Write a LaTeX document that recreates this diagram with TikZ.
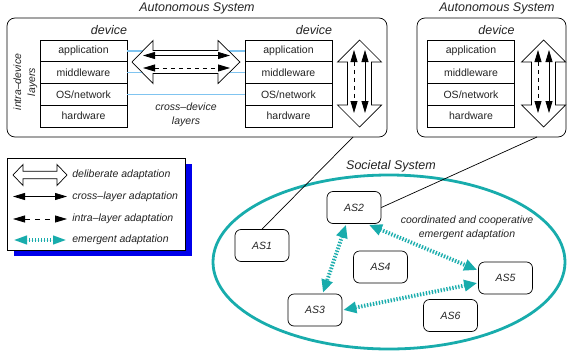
\documentclass[tikz,border=0pt]{standalone}
\usepackage{fontspec}
\setmainfont{Liberation Sans}
\usetikzlibrary{arrows.meta,calc,shapes.geometric,shadows}
\definecolor{teal1}{RGB}{24,172,172}
\definecolor{lblue}{RGB}{128,196,240}
\definecolor{shblue}{RGB}{0,0,235}
\definecolor{txt}{RGB}{35,35,35}
\newcommand\mystack[2]{%
  \node[layer] (#1a) at (#2,50.875) {application};
  \node[layer] (#1b) at (#2,72.625) {middleware};
  \node[layer] (#1c) at (#2,94.375) {OS/network};
  \node[layer] (#1d) at (#2,116.125) {hardware};
  \node[devlbl, anchor=base east] (#1t) at ($(#1a.north east)+(0,-5)$) {device};
}
\newcommand\myvarrow[1]{%
  \filldraw[fill=white, line join=miter] (#1,40) -- ({#1+22},62) -- ({#1+12},62) -- ({#1+12},105) -- ({#1+22},105) -- (#1,127)
    -- ({#1-22},105) -- ({#1-12},105) -- ({#1-12},62) -- ({#1-22},62) -- cycle;
  \draw[bi] ({#1+5.5},50) -- ({#1+5.5},113);
  \draw[bi, dash pattern=on 4pt off 4pt] ({#1-5.5},50) -- ({#1-5.5},113);
}
\begin{document}
\begin{tikzpicture}[x=1pt, y=-1pt, line width=0.7pt,
  every node/.style={text=txt},
  font=\fontsize{10.5}{13}\selectfont,
  layer/.style={draw, minimum width=87pt, minimum height=21.75pt, inner sep=0pt},
  devlbl/.style={inner sep=0pt, font=\fontsize{12.5}{15}\selectfont\itshape},
  asys/.style={draw, rounded corners=8pt, inner sep=0pt},
  asn/.style={draw, rounded corners=6pt, minimum width=54pt, minimum height=32pt, inner sep=0pt, font=\fontsize{10.5}{13}\selectfont\itshape},
  ttl/.style={inner sep=0pt, font=\fontsize{12.5}{15}\selectfont\itshape},
  itl/.style={inner sep=0pt, font=\fontsize{10.5}{14}\selectfont\itshape, align=center},
  bi/.style={{Triangle[length=12pt,width=7pt]}-{Triangle[length=12pt,width=7pt]}, line width=0.8pt, draw=black},
  emer/.style={{Triangle[length=13pt,width=11pt]}-{Triangle[length=13pt,width=11pt]}, draw=teal1, fill=teal1, line width=4pt, dash pattern=on 1.3pt off 1.7pt},
  emerleg/.style={{Triangle[length=14pt,width=8pt]}-{Triangle[length=14pt,width=8pt]}, draw=teal1, fill=teal1, line width=4pt, dash pattern=on 1.3pt off 1.7pt},
]
\useasboundingbox (0,0) rectangle (567,351);

% autonomous systems
\node[asys, minimum width=380pt, minimum height=119pt] (asL) at (197,77.5) {};
\node[asys, minimum width=149pt, minimum height=119pt] (asR) at (491.5,77.5) {};
\node[ttl] (tL) at (197,8) {Autonomous System};
\node[ttl] (tR) at (497,8) {Autonomous System};

\mystack{s1}{83.5}
\mystack{s2}{288.5}
\mystack{s3}{471}

% cross-device lines
\draw[lblue, line width=1.6pt] (s1a.east) -- (s2a.west);
\draw[lblue, line width=1.6pt] (s1b.east) -- (s2b.west);
\draw[lblue, line width=1.6pt] (s1c.east) -- (s2c.west);

% horizontal deliberate arrow
\filldraw[fill=white, line join=miter] (132,62) -- (153,40.5) -- (153,50.5) -- (218,50.5) -- (218,40.5) -- (240,62)
  -- (218,83.5) -- (218,73.5) -- (153,73.5) -- (153,83.5) -- cycle;
\draw[bi] (143,55.5) -- (230,55.5);
\draw[bi, dash pattern=on 4pt off 4pt] (143,68) -- (230,68);

\node[itl] (cd) at (186,114.5) {cross--device\\layers};
\node[itl, rotate=90] (id) at (25.5,82) {intra--device\\layers};

% vertical deliberate arrows
\myvarrow{359.5}
\myvarrow{543.5}

% legend
\node[draw, fill=white, minimum width=178pt, minimum height=92pt, inner sep=0pt,
  drop shadow={shadow xshift=7pt, shadow yshift=-5.5pt, fill=shblue, opacity=1}] (leg) at (96,204) {};
\filldraw[fill=white, line join=miter] (13,175) -- (23,164.5) -- (23,171.2) -- (57,171.2) -- (57,164.5) -- (67,175)
  -- (57,185.5) -- (57,178.8) -- (23,178.8) -- (23,185.5) -- cycle;
\draw[bi] (13,196.5) -- (67,196.5);
\draw[bi, dash pattern=on 5pt off 5pt] (13,219) -- (67,219);
\draw[emerleg] (13,240) -- (67,240);
\node[itl, anchor=west] (l1) at (72,175) {deliberate adaptation};
\node[itl, anchor=west] (l2) at (72,196.5) {cross--layer adaptation};
\node[itl, anchor=west] (l3) at (72,219) {intra--layer adaptation};
\node[itl, anchor=west] (l4) at (72,240) {emergent adaptation};

% societal system
\node[draw=teal1, line width=2.8pt, ellipse, minimum width=352pt, minimum height=174pt, inner sep=0pt] (soc) at (389,262) {};
\node[ttl] (st) at (391,166) {Societal System};

\node[asn] (AS1) at (262,245.5) {AS1};
\node[asn] (AS2) at (354,207.5) {AS2};
\node[asn] (AS3) at (315,310) {AS3};
\node[asn] (AS4) at (380.5,267) {AS4};
\node[asn] (AS5) at (505.5,278) {AS5};
\node[asn] (AS6) at (450.5,315.5) {AS6};

\node[itl] (coord) at (467,227.5) {coordinated and cooperative\\emergent adaptation};

\coordinate (cL) at (353,137);
\coordinate (cR) at (537,137);
\draw[line width=0.7pt] (AS1.north) -- (cL);
\draw[line width=0.7pt] (AS2.east) -- (cR);

\draw[emer] ($(AS2.south)+(-8,1)$) -- ($(AS3.north)+(8,-1)$);
\draw[emer] ($(AS2.south)+(15,1)$) -- ($(AS5.west)+(-1,-8)$);
\draw[emer] ($(AS3.east)+(1,0)$) -- ($(AS5.west)+(-1,5)$);
\end{tikzpicture}
\end{document}
